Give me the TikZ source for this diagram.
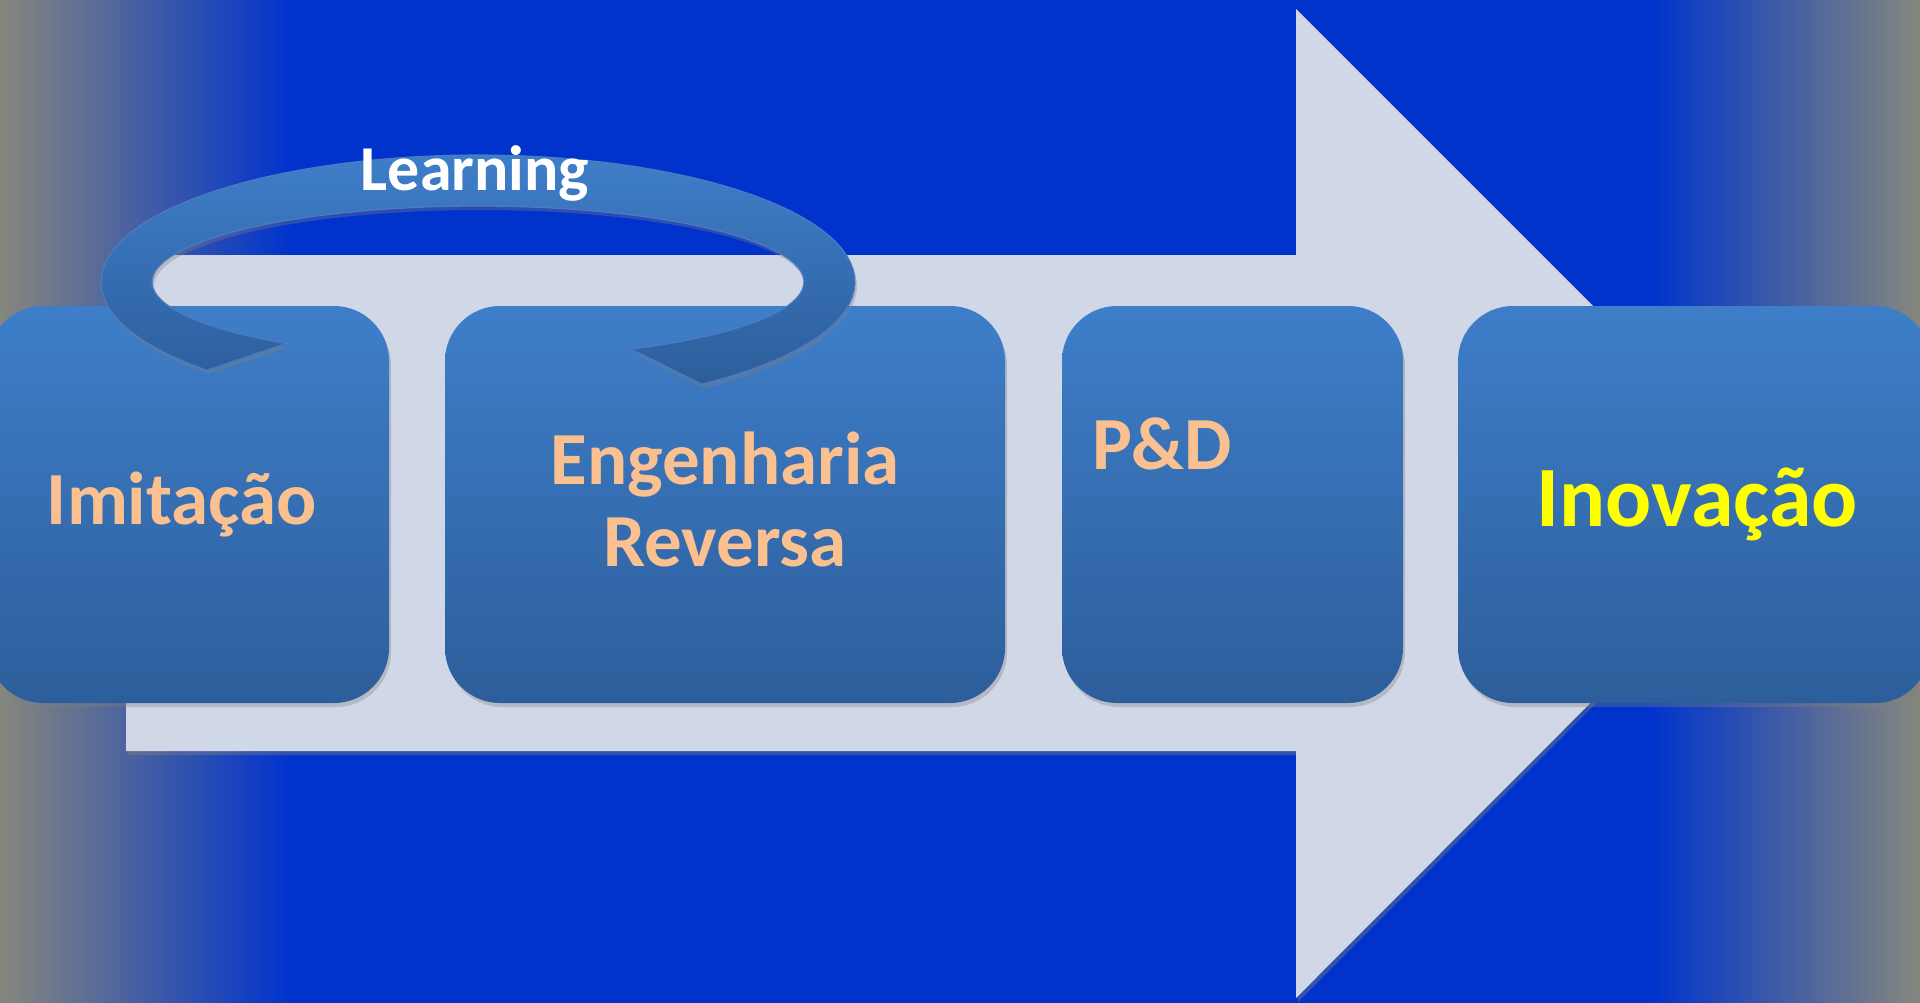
\documentclass[tikz,border=0pt]{standalone}
\usepackage{fontspec}
\setmainfont{Carlito}
\usetikzlibrary{shadows}
\definecolor{bgblue}{RGB}{0,51,204}
\definecolor{edgegray}{RGB}{138,138,122}
\definecolor{arrowfill}{RGB}{208,216,232}
\definecolor{boxtop}{RGB}{62,126,201}
\definecolor{boxbot}{RGB}{45,94,155}
\definecolor{ringedge}{RGB}{78,122,192}
\definecolor{labelorange}{RGB}{250,192,144}
\definecolor{labelyellow}{RGB}{255,255,0}

\begin{document}
\begin{tikzpicture}[x=0.5pt,y=-0.5pt,
  stagebox/.style={rounded corners=27.5pt, top color=boxtop, bottom color=boxbot, minimum height=198.5pt, inner sep=0pt, align=center,
    drop shadow={shadow xshift=1pt, shadow yshift=-2pt, opacity=.35}},
  stagetext/.style={text=labelorange, font=\bfseries\fontsize{37.5}{41}\selectfont, align=center}]
\useasboundingbox (0,0) rectangle (1920,1002);

%Background
\fill[bgblue] (-10,-10) rectangle (1930,1012);
\shade[left color=edgegray, right color=bgblue] (-10,-10) rectangle (290,1012);
\shade[left color=bgblue, right color=edgegray] (1650,-10) rectangle (1930,1012);

%Shape: Right Arrow
\fill[arrowfill, drop shadow={shadow xshift=1pt, shadow yshift=-2pt, opacity=.4}] (126,255) -- (1296,255) -- (1296,9) -- (1790,503) -- (1296,998) -- (1296,751) -- (126,751) -- cycle;

%Shape: Rounded Rectangles
\node[stagebox, minimum width=200.5pt] (imit) at (188.5,504.5) {};
\node[stagebox, minimum width=280pt] (eng) at (725,504.5) {};
\node[stagebox, minimum width=170.5pt] (pd) at (1232.5,504.5) {};
\node[stagebox, minimum width=236pt] (inov) at (1694,504.5) {};

% Text Node
\node[stagetext] (imitlabel) at ([xshift=-3.25pt]imit.center) {Imitação};
% Text Node
\node[stagetext] (englabel) at ([yshift=2.5pt]eng.center) {Engenharia\\Reversa};
% Text Node
\node[stagetext, anchor=west, inner sep=0pt] (pdlabel) at ([xshift=15pt,yshift=30.5pt]pd.west) {P\&D};
% Text Node
\node[text=labelyellow, font=\bfseries\fontsize{43}{48}\selectfont] (inovlabel) at ([xshift=1.5pt]inov.center) {Inovação};

%Shape: Circular Arrow
\shade[top color=boxtop, bottom color=boxbot, draw=ringedge, line width=0.6pt,
  drop shadow={shadow xshift=1pt, shadow yshift=-2pt, opacity=.35}]
  plot[domain=136:413.6, samples=90] ({478+377*cos(\x)},{282+127*sin(\x)})
  -- plot[domain=422:126, samples=90] ({478+326*cos(\x)},{282+76*sin(\x)}) -- cycle;

% Text Node
\node[text=white, font=\bfseries\fontsize{32}{38}\selectfont] (learn) at (475,173) {Learning};

\end{tikzpicture}
\end{document}
